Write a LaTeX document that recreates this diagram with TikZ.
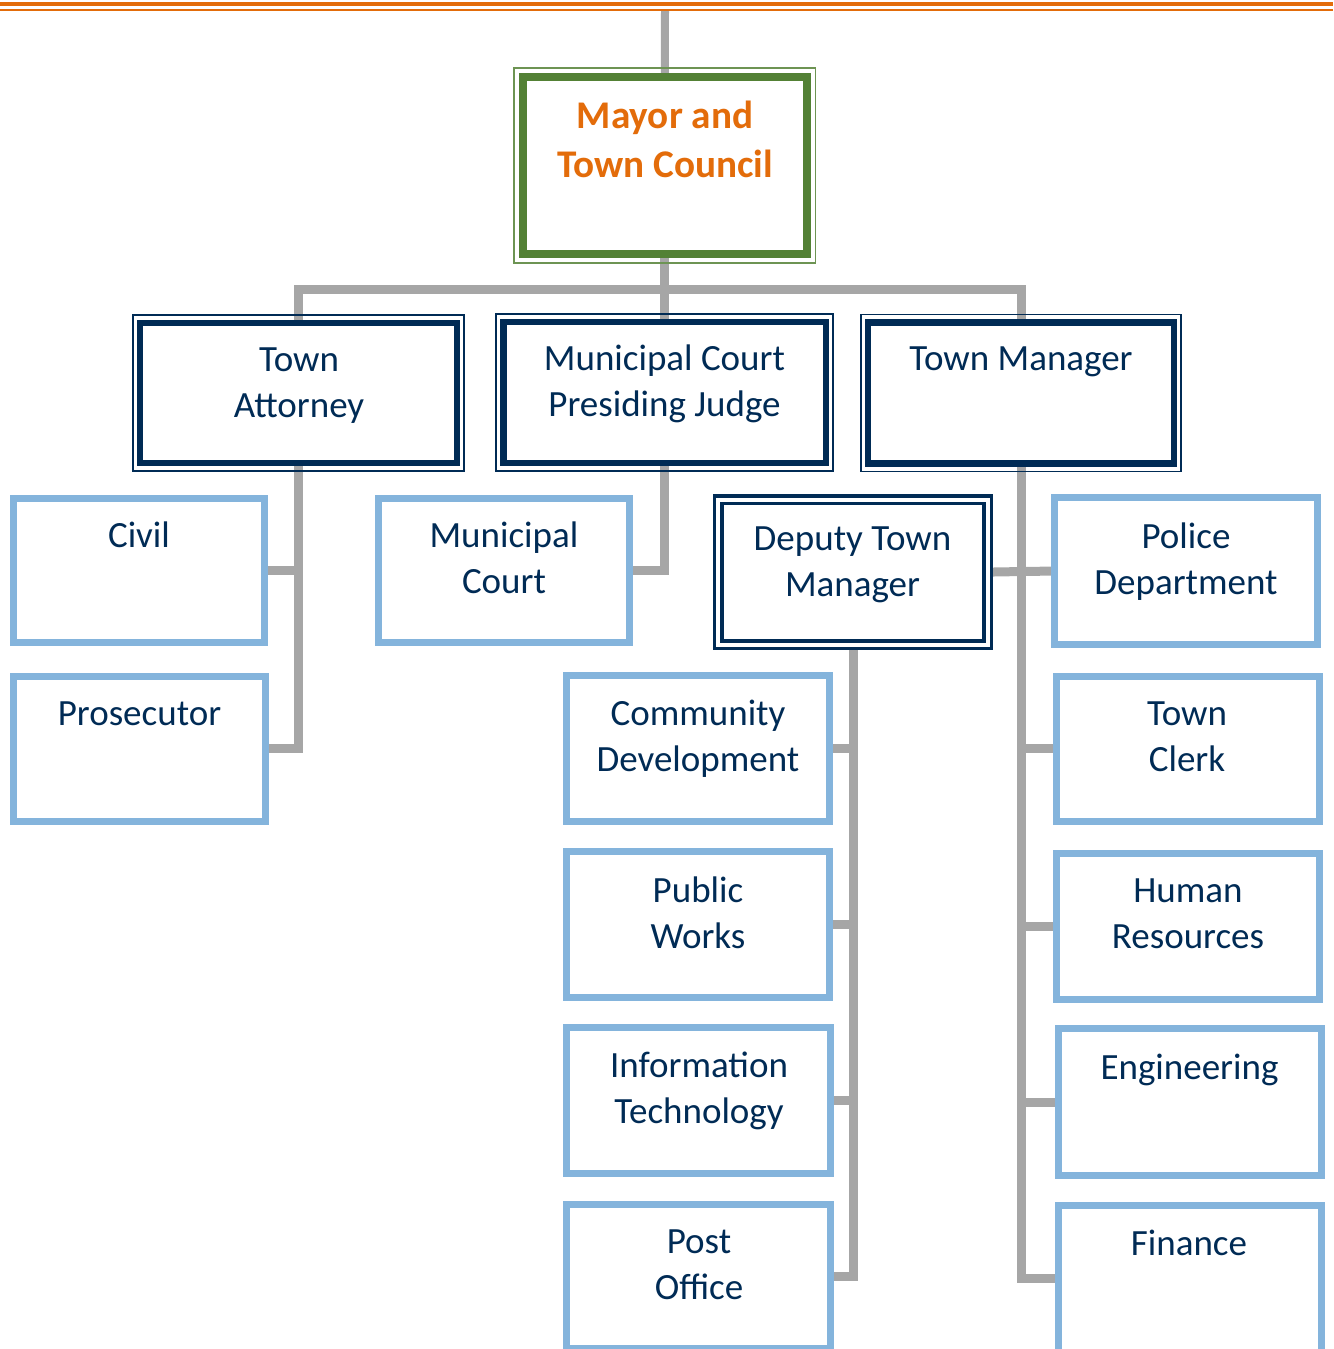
\documentclass[tikz,border=0pt]{standalone}
\usepackage{fontspec}
\setmainfont{Carlito}
\usetikzlibrary{backgrounds}
\definecolor{orng}{HTML}{E36C0A}
\definecolor{grn}{HTML}{538135}
\definecolor{navy}{HTML}{002B55}
\definecolor{lblue}{HTML}{84B4DC}
\definecolor{conncol}{HTML}{A6A6A6}
\begin{document}
\begin{tikzpicture}[x=0.5pt,y=-0.5pt,
  lbox/.style={draw=lblue, line width=3.5pt, fill=white, inner sep=0pt, outer sep=0pt, rectangle},
  dbox/.style={draw=navy, line width=3.25pt, fill=white, inner sep=0pt, outer sep=0pt, rectangle},
  dubbox/.style={draw=navy, double=white, double distance=2pt, line width=1.75pt, fill=white, inner sep=0pt, outer sep=0pt, rectangle},
  mbox/.style={draw=grn, line width=4pt, fill=white, inner sep=0pt, outer sep=0pt, rectangle},
  thinframe/.style={draw=navy, line width=0.6pt},
  conn/.style={draw=conncol, line width=4.5pt},
  txt/.style={text=navy, align=center, font=\fontsize{18.5}{23}\selectfont, inner sep=0pt, anchor=base},
  mtxt/.style={text=orng, align=center, font=\fontsize{19.6}{24.5}\selectfont\bfseries, inner sep=0pt, anchor=base}]
\useasboundingbox (0,0) rectangle (1333,1349);
% top rules
\draw[orng, line width=2pt] (0,4) -- (1333,4);
\draw[orng, line width=1pt] (0,10) -- (1333,10);

% level 0
\node[mbox, minimum width=141.75pt, minimum height=88.5pt] (mayor) at (664.75,165.5) {};
\draw[draw=grn!85, line width=0.75pt] ([shift={(-9,-9)}]mayor.north west) rectangle ([shift={(9,9)}]mayor.south east);

% level 1
\node[dbox, minimum width=158.5pt, minimum height=70pt] (att) at (298.5,393) {};
\node[dbox, minimum width=161.25pt, minimum height=70.5pt] (judge) at (664.75,392.5) {};
\node[dbox, minimum width=153pt, minimum height=70.5pt] (tm) at (1021,393) {};
\draw[thinframe] ([shift={(-7,-8)}]att.north west) rectangle ([shift={(7,8)}]att.south east);
\draw[thinframe] ([shift={(-7.5,-8)}]judge.north west) rectangle ([shift={(7,8)}]judge.south east);
\draw[thinframe] ([shift={(-7,-8)}]tm.north west) rectangle ([shift={(7,8)}]tm.south east);

% level 2
\node[lbox, minimum width=125.5pt, minimum height=72pt] (civil) at (139,570) {};
\node[lbox, minimum width=125.75pt, minimum height=72.5pt] (pros) at (139.25,748.5) {};
\node[lbox, minimum width=125.75pt, minimum height=72pt] (muni) at (503.75,570) {};
\node[dubbox, minimum width=134.75pt, minimum height=72.4pt] (dep) at (853,572.1) {};
\node[lbox, minimum width=131.5pt, minimum height=73.5pt] (police) at (1186,571) {};
\node[lbox, minimum width=131.5pt, minimum height=72.5pt] (clerk) at (1187.5,748.5) {};
\node[lbox, minimum width=131.5pt, minimum height=73pt] (hr) at (1188,926.5) {};
\node[lbox, minimum width=131.5pt, minimum height=73.5pt] (eng) at (1190,1102) {};
\node[lbox, minimum width=131.5pt, minimum height=73.25pt] (fin) at (1190,1278.75) {};
\node[lbox, minimum width=131.5pt, minimum height=73pt] (cd) at (698,748.5) {};
\node[lbox, minimum width=131.5pt, minimum height=73pt] (pw) at (698,924.5) {};
\node[lbox, minimum width=132pt, minimum height=73pt] (it) at (698.5,1100.5) {};
\node[lbox, minimum width=132pt, minimum height=72pt] (post) at (698.5,1276.5) {};

% texts (base anchor = baseline of the last line)
\node[mtxt] (mayorT) at (665,177) {Mayor and\\Town Council};
\node[txt] (attT) at (299,417) {Town\\Attorney};
\node[txt] (judgeT) at (664.5,416) {Municipal Court\\Presiding Judge};
\node[txt] (tmT) at (1021,370) {Town Manager};
\node[txt] (civilT) at (139,547) {Civil};
\node[txt] (muniT) at (504,593) {Municipal\\Court};
\node[txt] (depT) at (852.5,596) {Deputy Town\\Manager};
\node[txt] (policeT) at (1186,594) {Police\\Department};
\node[txt] (prosT) at (139.5,725) {Prosecutor};
\node[txt] (cdT) at (698,771) {Community\\Development};
\node[txt] (clerkT) at (1187,771) {Town\\Clerk};
\node[txt] (pwT) at (698,948) {Public\\Works};
\node[txt] (hrT) at (1188,948) {Human\\Resources};
\node[txt] (itT) at (699,1123) {Information\\Technology};
\node[txt] (engT) at (1189.5,1079) {Engineering};
\node[txt] (postT) at (699,1299) {Post\\Office};
\node[txt] (finT) at (1189,1255) {Finance};

% connectors
\coordinate (topc) at (665,11);
\coordinate (bus) at (665,289);
\begin{pgfonlayer}{background}
\draw[conn, line width=4pt] (topc) -- (mayor.north);
\draw[conn] (mayor.south) -- (judge.north);
\draw[conn] (att.north) -- (att.north |- bus) -- (tm.north |- bus) -- (tm.north);
\draw[conn] (att.south) |- (pros.east);
\draw[conn] (civil.east) -- (civil.east -| att.south);
\draw[conn] (judge.south) |- (muni.east);
\draw[conn] (tm.south) |- (fin.west);
\draw[conn] (dep.east) -- (police.west);
\draw[conn] (clerk.west) -- (clerk.west -| tm.south);
\draw[conn] (hr.west) -- (hr.west -| tm.south);
\draw[conn] (eng.west) -- (eng.west -| tm.south);
\draw[conn] (dep.south) |- (post.east);
\draw[conn] (cd.east) -- (cd.east -| dep.south);
\draw[conn] (pw.east) -- (pw.east -| dep.south);
\draw[conn] (it.east) -- (it.east -| dep.south);
\end{pgfonlayer}
\end{tikzpicture}
\end{document}
